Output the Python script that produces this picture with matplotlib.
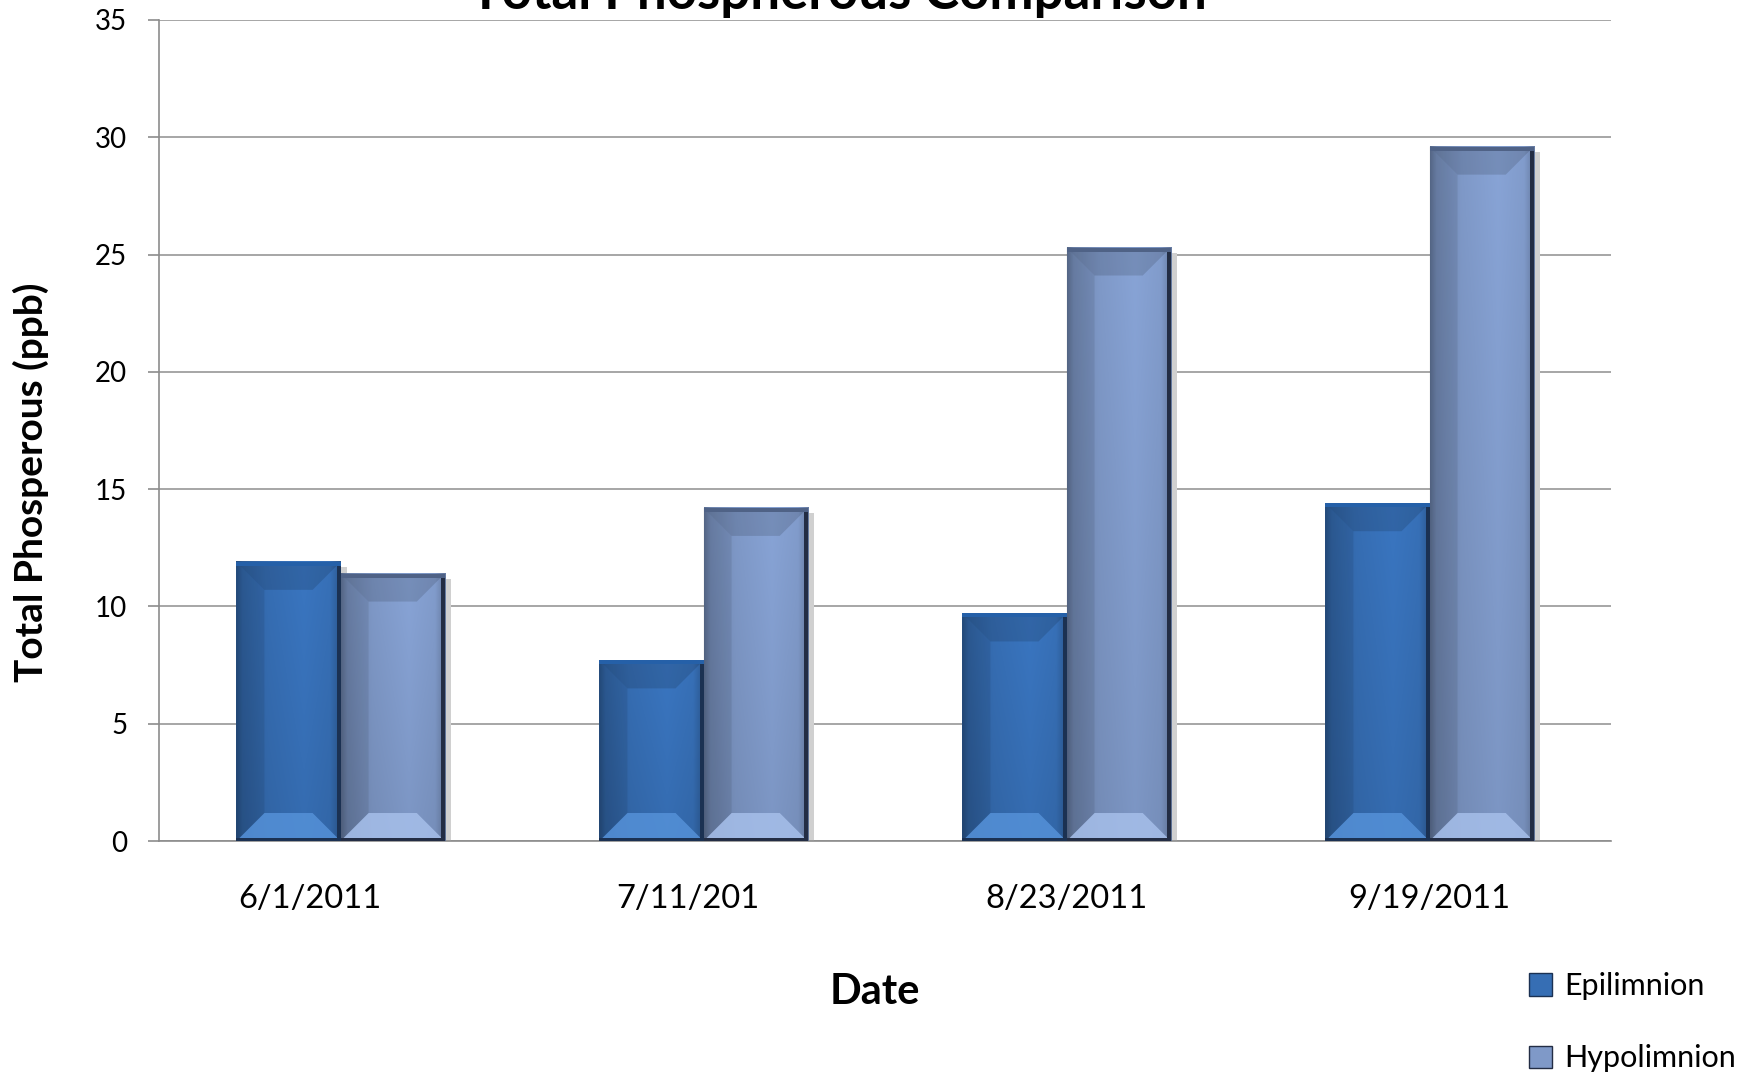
import numpy as np
import matplotlib
matplotlib.use('Agg')
import matplotlib.pyplot as plt
from matplotlib.patches import Polygon, Patch
from matplotlib.colors import to_rgb
from matplotlib.transforms import ScaledTranslation

plt.rcParams['font.family'] = ['Lato', 'DejaVu Sans']

dates = ['6/1/2011', '7/11/201', '8/23/2011', '9/19/2011']
epilimnion = [11.9, 7.7, 9.7, 14.4]
hypolimnion = [11.4, 14.2, 25.3, 29.6]
y_ticks = [0, 5, 10, 15, 20, 25, 30, 35]

# colours: main face, top edge, right/bottom edge, bottom bevel
epi_cols = ['#366eb4', '#2560a8', '#1b3152', '#5591d8']
hypo_cols = ['#7f99c8', '#4f6286', '#232d44', '#a6bfea']


def face_image(base, nx, ny):
    # horizontal + vertical shading for the bar face
    h = np.linspace(0, 1, nx)
    fh = np.interp(h, [0, 0.06, 0.3, 0.65, 0.9, 1], [0.72, 0.86, 0.98, 1.05, 1.0, 0.8])
    v = np.linspace(1, 0, ny)
    fv = 0.93 + 0.09 * v
    rgb = np.array(to_rgb(base))
    img = rgb[None, None, :] * fh[None, :, None] * fv[:, None, None]
    return np.clip(img, 0, 1)


def bevel_bar(ax, patch, cols, bev=28):
    x0, y0 = ax.transData.transform((patch.get_x(), patch.get_y()))
    x1, y1 = ax.transData.transform((patch.get_x() + patch.get_width(),
                                     patch.get_y() + patch.get_height()))
    b = min(bev, (x1 - x0) / 2.5, (y1 - y0) / 2.5)
    inv = ax.transData.inverted()
    face, topc, dark, light = cols

    def add(pts, c, z=4, a=1.0):
        pts = inv.transform(pts)
        ax.add_patch(Polygon(pts, closed=True, facecolor=c, edgecolor='none',
                             alpha=a, zorder=z))

    # shadow
    add([(x0 + 3, y0 - 5), (x1 + 6, y0 - 5), (x1 + 6, y1 - 5), (x0 + 3, y1 - 5)], '#d0d0d0', 2)
    # shaded face
    nx, ny = max(int(x1 - x0), 2), max(int(y1 - y0), 2)
    dx0, dy0 = patch.get_x(), patch.get_y()
    ax.imshow(face_image(face, nx, ny), extent=(dx0, dx0 + patch.get_width(), dy0,
              dy0 + patch.get_height()), aspect='auto', zorder=3, interpolation='bilinear')
    # bevels
    add([(x0, y1), (x1, y1), (x1 - b, y1 - b), (x0 + b, y1 - b)], 'black', a=0.13)
    add([(x0, y0), (x1, y0), (x1 - b, y0 + b), (x0 + b, y0 + b)], light, a=0.85)
    add([(x0, y0), (x0 + b, y0 + b), (x0 + b, y1 - b), (x0, y1)], 'black', a=0.08)
    # edges
    add([(x1 - 4, y0), (x1, y0), (x1, y1), (x1 - 4, y1)], dark, 5)
    add([(x0, y0), (x1, y0), (x1, y0 + 3), (x0, y0 + 3)], dark, 5)
    add([(x0, y1 - 4), (x1, y1 - 4), (x1, y1), (x0, y1)], topc, 5)


fig = plt.figure(figsize=(17.54, 10.73), dpi=100)
ax = fig.add_axes([0.0907, 0.2162, 0.8278, 0.7652])

x = np.arange(len(dates))
w = 0.287
bars_e = ax.bar(x - w / 2, epilimnion, w, color=epi_cols[0], zorder=3)
bars_h = ax.bar(x + w / 2, hypolimnion, w, color=hypo_cols[0], zorder=3)

ax.set_xlim(-0.5, len(dates) - 0.5)
ax.set_ylim(0, 35)
ax.set_yticks(y_ticks)
ax.set_xticks(x)
ax.set_xticklabels(dates, fontsize=23.5)
ax.tick_params(axis='x', length=0, pad=31)
ax.tick_params(axis='y', length=8, width=1.2, color='#8c8c8c', labelsize=20, pad=15)
ax.yaxis.grid(True, color='#a6a6a6', linewidth=1.4, zorder=0)
ax.set_axisbelow(True)
for s in ['top', 'right']:
    ax.spines[s].set_visible(False)
for s in ['left', 'bottom']:
    ax.spines[s].set_color('#8c8c8c')
    ax.spines[s].set_linewidth(1.2)

# the first two date labels sit a bit left of their groups in the original
label_shift = [-22, -11.5, 0, 0]
for lab, dx in zip(ax.get_xticklabels(), label_shift):
    lab.set_transform(lab.get_transform() + ScaledTranslation(dx / 72, 0, fig.dpi_scale_trans))

fig.canvas.draw()
for p in bars_e:
    bevel_bar(ax, p, epi_cols)
for p in bars_h:
    bevel_bar(ax, p, hypo_cols)
for p in list(bars_e) + list(bars_h):
    p.set_visible(False)
ax.set_xlim(-0.5, len(dates) - 0.5)
ax.set_ylim(0, 35)

fig.text(0.478, 0.9916, 'Total Phospherous Comparison', fontsize=38, fontweight='bold',
         ha='center', va='baseline')
fig.text(0.0177, 0.5508, 'Total Phosperous (ppb)', fontsize=28, fontweight='bold',
         rotation=90, ha='center', va='center')
fig.text(0.4989, 0.0755, 'Date', fontsize=30, fontweight='bold', ha='center', va='center')

handles = [Patch(facecolor=epi_cols[0], edgecolor=epi_cols[2]),
           Patch(facecolor=hypo_cols[0], edgecolor=hypo_cols[2])]
fig.legend(handles, ['Epilimnion', 'Hypolimnion'], loc='upper left',
           bbox_to_anchor=(0.872, 0.094), frameon=False, fontsize=22,
           handlelength=0.75, handleheight=0.75, handletextpad=0.4,
           labelspacing=1.45, borderaxespad=0, borderpad=0)

fig.savefig('out.png', dpi=100)
